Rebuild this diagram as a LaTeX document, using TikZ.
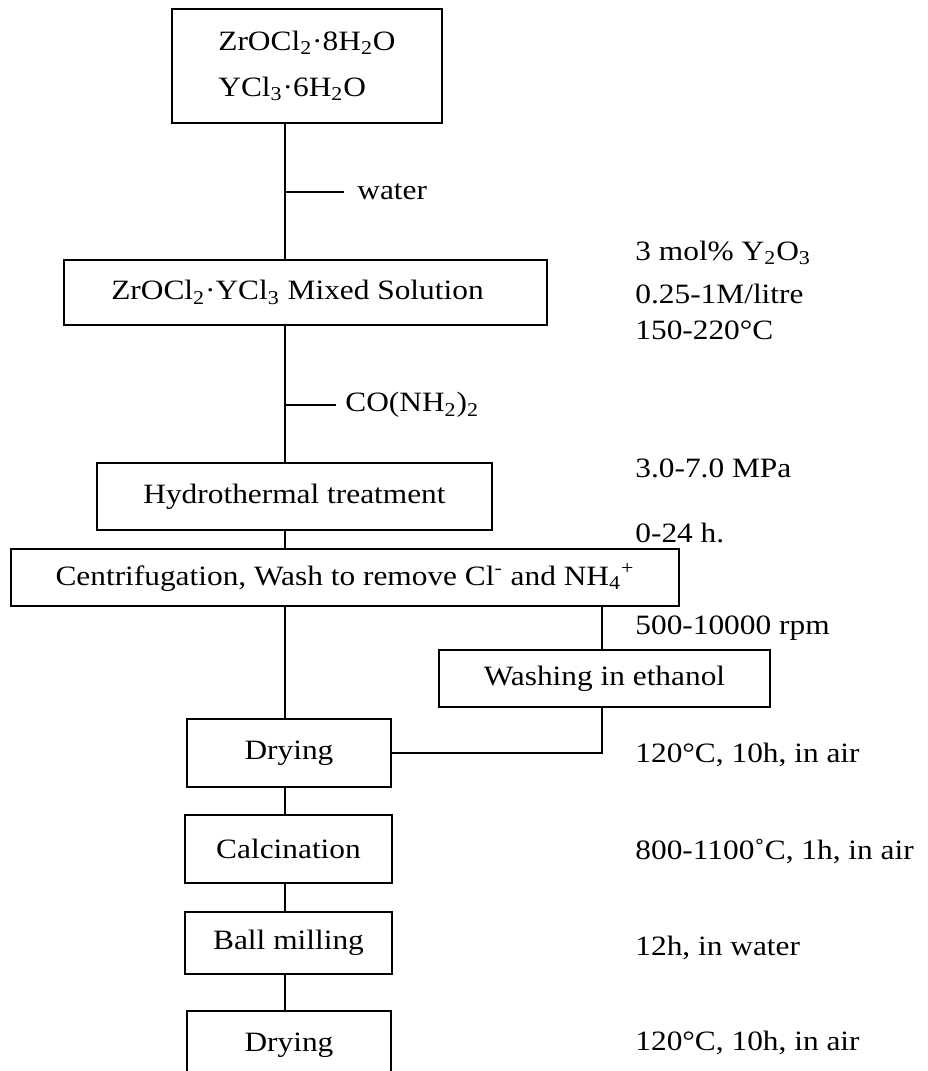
\documentclass[tikz,border=0pt]{standalone}
\usepackage{fontspec}
\setmainfont{Liberation Serif}[FakeStretch=1.12]
\begin{document}
\begin{tikzpicture}[x=0.5pt,y=-0.5pt,
  txt/.style={font=\fontsize{14}{17}\selectfont},
  box/.style={draw, line width=1pt, inner sep=0pt, txt},
  lab/.style={inner sep=0pt, anchor=west, txt},
  conn/.style={line width=0.9pt}]
\useasboundingbox (0,0) rectangle (927,1071);
\clip (0,0) rectangle (927,1071);
% boxes
\node[box, minimum width=135pt, minimum height=57pt, align=left, font=\fontsize{14}{23}\selectfont] (top) at (307,66)
  {ZrOCl\textsubscript{2}·8H\textsubscript{2}O\\YCl\textsubscript{3}·6H\textsubscript{2}O};
\node[box, minimum width=241.5pt, minimum height=32.5pt] (mix) at (305.5,292.5)
  {\hspace*{-8pt}ZrOCl\textsubscript{2}·YCl\textsubscript{3} Mixed Solution};
\node[box, minimum width=197.5pt, minimum height=33.5pt] (hydro) at (294.5,496.5) {Hydrothermal treatment};
\node[box, minimum width=334pt, minimum height=28.5pt] (centri) at (345,577.5)
  {Centrifugation, Wash to remove Cl\textsuperscript{-} and NH\textsubscript{4}\textsuperscript{+}};
\node[box, minimum width=165.5pt, minimum height=28.5pt] (wash) at (604.5,678.5) {Washing in ethanol};
\node[box, minimum width=102pt, minimum height=34pt] (dry1) at (289,753) {Drying};
\node[box, minimum width=103.5pt, minimum height=34pt] (calc) at (288.5,849) {Calcination};
\node[box, minimum width=103.5pt, minimum height=31pt] (ball) at (288.5,943) {Ball milling};
\node[box, minimum width=102pt, minimum height=34pt] (dry2) at (289,1045) {Drying};
% main line
\coordinate (m) at (285,0);
\coordinate (b) at (602,0);
\draw[conn] (top.south -| m) -- (mix.north -| m);
\draw[conn] (mix.south -| m) -- (hydro.north -| m);
\draw[conn] (hydro.south -| m) -- (centri.north -| m);
\draw[conn] (centri.south -| m) -- (dry1.north -| m);
\draw[conn] (dry1.south -| m) -- (calc.north -| m);
\draw[conn] (calc.south -| m) -- (ball.north -| m);
\draw[conn] (ball.south -| m) -- (dry2.north -| m);
% branch
\draw[conn] (centri.south -| b) -- (wash.north -| b);
\draw[conn] (wash.south -| b) |- (dry1.east);
% additions
\coordinate (wt) at (285,192);
\node[lab, inner xsep=6.5pt] (water) at (344,192) {water};
\draw[conn] (wt) -- (water.west);
\coordinate (ct) at (285,405);
\node[lab, inner xsep=4.5pt] (co) at (336,405) {CO(NH\textsubscript{2})\textsubscript{2}};
\draw[conn] (ct) -- (co.west);
% conditions
\node[lab] (c1) at (635,253) {3 mol\% Y\textsubscript{2}O\textsubscript{3}};
\node[lab] (c2) at (635,294) {0.25-1M/litre};
\node[lab] (c3) at (635,330) {150-220°C};
\node[lab] (c4) at (635,468) {3.0-7.0 MPa};
\node[lab] (c5) at (635,533) {0-24 h.};
\node[lab] (c6) at (635,628) {500-10000 rpm};
\node[lab] (c7) at (635,755) {120°C, 10h, in air};
\node[lab] (c8) at (635,852) {800-1100˚C, 1h, in air};
\node[lab] (c9) at (635,948) {12h, in water};
\node[lab] (c10) at (635,1043) {120°C, 10h, in air};
\end{tikzpicture}
\end{document}
